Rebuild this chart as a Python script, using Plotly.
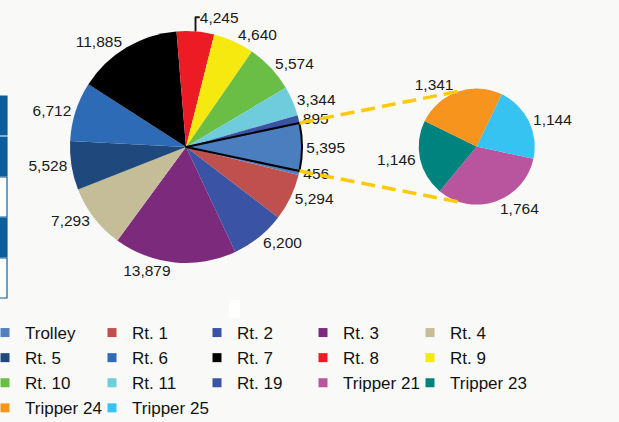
import math
import plotly.graph_objects as go

# ---------------- data ----------------
main_labels = ["Trolley", "Rt. 1", "Rt. 2", "Rt. 3", "Rt. 4", "Rt. 5", "Rt. 6",
               "Rt. 7", "Rt. 8", "Rt. 9", "Rt. 10", "Rt. 11", "Rt. 19", "Other"]
main_values = [456, 5294, 6200, 13879, 7293, 5528, 6712,
               11885, 4245, 4640, 5574, 3344, 895, 5395]
main_colors = ["#4F81BD", "#C0504D", "#3A53A4", "#7B2A7C", "#C4BD97", "#1F497D", "#2E6BB6",
               "#000000", "#ED1C24", "#F5E90F", "#6BBE45", "#6ECCDC", "#3A53A4", "#4A7EBF"]

sub_labels = ["Tripper 21", "Tripper 23", "Tripper 24", "Tripper 25"]
sub_values = [1764, 1146, 1341, 1144]
sub_colors = ["#B9559F", "#00827F", "#F7941D", "#36C3F2"]

legend_labels = main_labels[:-1] + sub_labels
legend_colors = main_colors[:-1] + sub_colors
legend_columns = 5

# ---------------- layout geometry ----------------
W, H = 619, 422
main_cx, main_cy, main_r = 186, 147, 116
sub_cx, sub_cy, sub_r = 476.7, 146.6, 58
legend_col_x = [22, 129, 234, 340, 447]   # text start of each legend column (px)
legend_top = 315                           # px


def dom(cx, cy, r):
    return dict(x=[(cx - r) / W, (cx + r) / W], y=[1 - (cy + r) / H, 1 - (cy - r) / H])


other_val = main_values[-1]
total = sum(main_values)
half_span = 180.0 * other_val / total          # half angle of the "Other" slice
main_rot = 90 + half_span                       # first slice starts just below 3 o'clock

label_font = dict(size=15.5, color="#1a1a1a", family="Liberation Sans, Arial")

fig = go.Figure()

fig.add_trace(go.Pie(
    labels=main_labels, values=main_values, sort=False, direction="clockwise",
    rotation=main_rot, domain=dom(main_cx, main_cy, main_r),
    marker=dict(colors=main_colors,
                line=dict(color=["#ffffff"] * (len(main_values) - 1) + ["#000000"],
                          width=[0] * (len(main_values) - 1) + [2])),
    texttemplate="%{value:,}", textposition="outside", textfont=label_font,
    showlegend=False, hoverinfo="label+value",
))

fig.add_trace(go.Pie(
    labels=sub_labels, values=sub_values, sort=False, direction="clockwise",
    rotation=102, domain=dom(sub_cx, sub_cy, sub_r),
    marker=dict(colors=sub_colors, line=dict(width=0)),
    texttemplate="%{value:,}", textposition="outside", textfont=label_font,
    showlegend=False, hoverinfo="label+value",
))

# legend entries, laid out column by column (one legend per column)
for i, (name, col) in enumerate(zip(legend_labels, legend_colors)):
    c = i % legend_columns
    lg = "legend" if c == 0 else f"legend{c + 1}"
    fig.add_trace(go.Scatter(x=[None], y=[None], mode="markers", name=name, legend=lg,
                             marker=dict(symbol="square", size=9, color=col)))

legend_font = dict(size=17, color="#111111", family="Liberation Sans, Arial")
legends = {}
for c in range(legend_columns):
    key = "legend" if c == 0 else f"legend{c + 1}"
    legends[key] = dict(orientation="v", x=(legend_col_x[c] - 37) / W, y=1 - legend_top / H,
                        xanchor="left", yanchor="top", font=legend_font,
                        itemwidth=30, traceorder="normal", bgcolor="rgba(0,0,0,0)")

# connector lines (dashed yellow) from Other slice to sub pie
shapes = []
th = math.radians(half_span)
sub_a = math.radians(106)
for s in (1, -1):
    x0 = main_cx + main_r * math.cos(th)
    y0 = main_cy - s * main_r * math.sin(th)
    x1 = sub_cx + sub_r * math.cos(sub_a)
    y1 = sub_cy - s * sub_r * math.sin(sub_a)
    shapes.append(dict(type="line", xref="paper", yref="paper",
                       x0=x0 / W, y0=1 - y0 / H, x1=x1 / W, y1=1 - y1 / H,
                       line=dict(color="#FFC90E", width=3.5, dash="14px,7px")))

# left-edge slide remnants
blocks = [(96, 135, "#0E5E9C"), (137, 176, "#0E5E9C"), (177, 217, "#ffffff"),
          (218, 257, "#0E5E9C"), (258, 298, "#ffffff")]
for y0, y1, c in blocks:
    shapes.append(dict(type="rect", xref="paper", yref="paper", layer="below",
                       x0=-0.01, x1=7 / W, y0=1 - y1 / H, y1=1 - y0 / H,
                       fillcolor=c, line=dict(color="#0E5E9C", width=1.2)))
shapes.append(dict(type="rect", xref="paper", yref="paper", layer="below",
                   x0=229 / W, x1=240 / W, y0=1 - 318 / H, y1=1 - 300 / H,
                   fillcolor="#ffffff", line=dict(width=0)))

fig.update_layout(
    width=W, height=H,
    margin=dict(l=0, r=0, t=0, b=0, autoexpand=False),
    paper_bgcolor="#f9f9f7", plot_bgcolor="#f9f9f7",
    xaxis=dict(visible=False), yaxis=dict(visible=False),
    shapes=shapes,
    **legends,
)

fig.write_html("out.html", config={"displayModeBar": False},
               post_script="document.body.style.margin='0px';")
